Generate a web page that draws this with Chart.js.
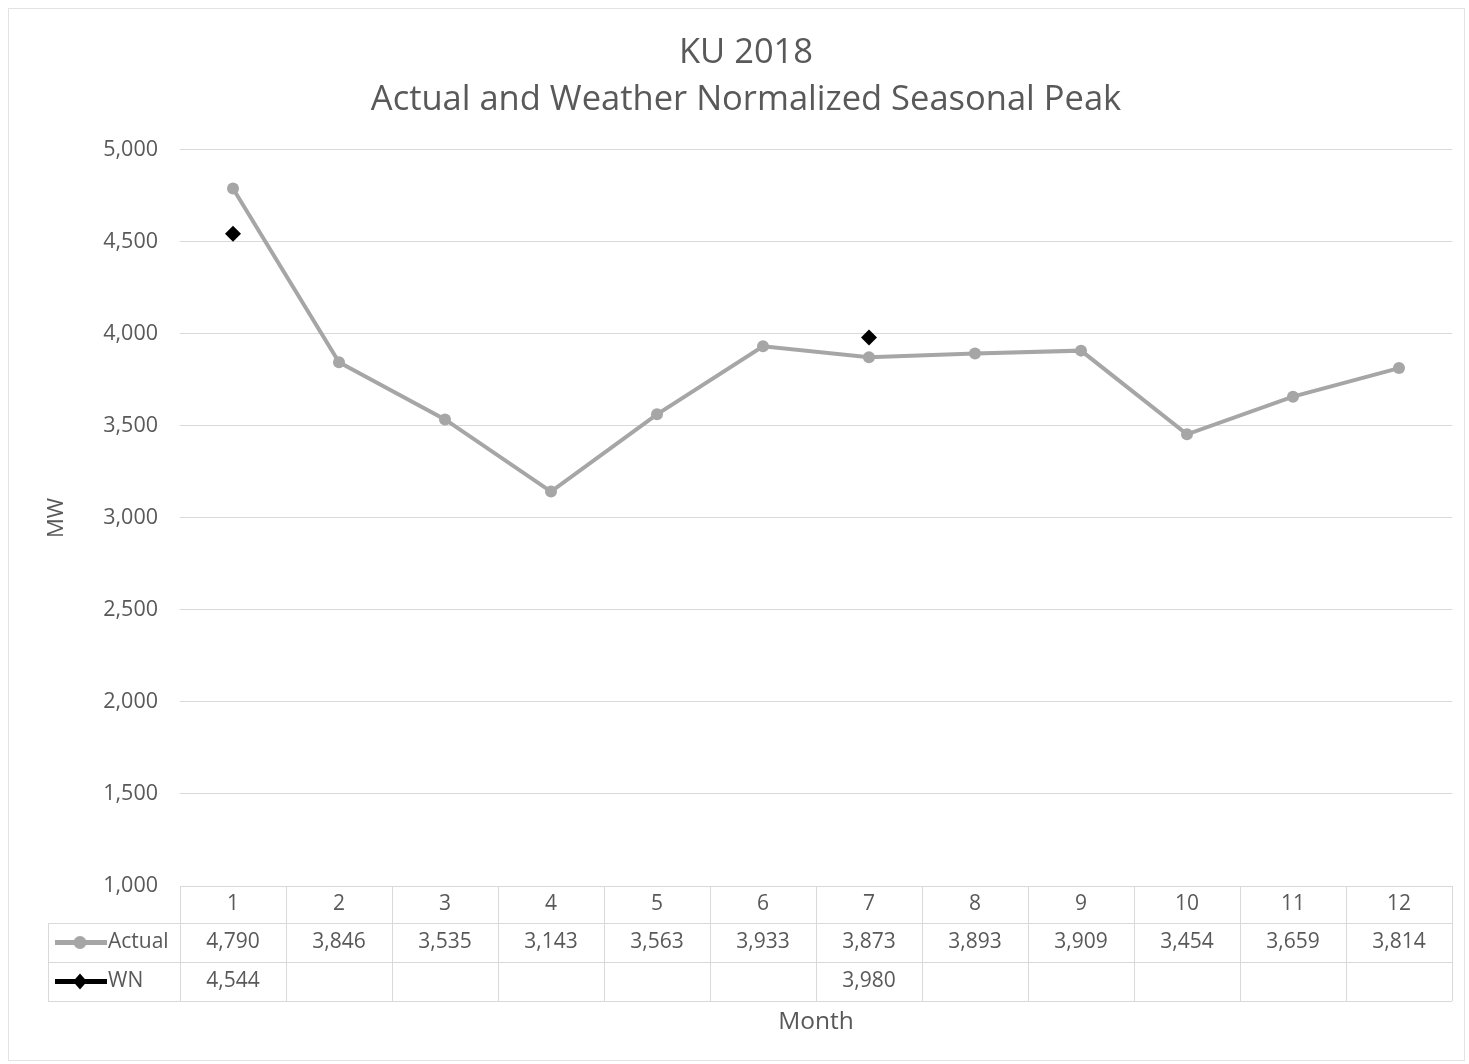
<!DOCTYPE html>
<html>
<head>
<meta charset="utf-8">
<title>KU 2018 Seasonal Peak</title>
<script src="https://cdn.jsdelivr.net/npm/chart.js@4.4.1/dist/chart.umd.min.js"></script>
<style>
  html, body { margin: 0; padding: 0; background: #fff; }
  #wrap { width: 1469px; height: 1064px; }
</style>
</head>
<body>
<div id="wrap"><canvas id="peakChart" width="1469" height="1064"></canvas></div>
<script>
// chart data
const months = ["1", "2", "3", "4", "5", "6", "7", "8", "9", "10", "11", "12"];
const actual = [4790, 3846, 3535, 3143, 3563, 3933, 3873, 3893, 3909, 3454, 3659, 3814];
const wn = [4544, null, null, null, null, null, 3980, null, null, null, null, null];
const yTicks = [1000, 1500, 2000, 2500, 3000, 3500, 4000, 4500, 5000];

const textColor = "#595959";
const gridColor = "#d9d9d9";
const fontFamily = "'Open Sans', 'Noto Sans', sans-serif";

function fmt(v) {
  return v.toLocaleString("en-US");
}

// draws the data table under the plot, using the x scale for column positions
const dataTable = {
  id: "dataTable",
  beforeDraw(chart) {
    const ctx = chart.ctx;
    ctx.save();
    ctx.strokeStyle = "#e3e3e3";
    ctx.lineWidth = 1;
    ctx.strokeRect(8.5, 8.5, chart.width - 13, chart.height - 12);
    ctx.restore();
  },
  afterDraw(chart) {
    const ctx = chart.ctx;
    const x = chart.scales.x;
    const area = chart.chartArea;
    const colW = (area.right - area.left) / months.length;
    const top = area.bottom;
    const rowH = [37, 39, 39];
    const r1 = top + rowH[0];
    const r2 = r1 + rowH[1];
    const r3 = r2 + rowH[2];
    const legendLeft = 48;

    ctx.save();
    ctx.strokeStyle = gridColor;
    ctx.lineWidth = 1;
    ctx.beginPath();
    // horizontal lines
    ctx.moveTo(area.left, top + 0.5); ctx.lineTo(area.right, top + 0.5);
    ctx.moveTo(legendLeft, r1 + 0.5); ctx.lineTo(area.right, r1 + 0.5);
    ctx.moveTo(legendLeft, r2 + 0.5); ctx.lineTo(area.right, r2 + 0.5);
    ctx.moveTo(legendLeft, r3 + 0.5); ctx.lineTo(area.right, r3 + 0.5);
    // vertical lines
    ctx.moveTo(legendLeft + 0.5, r1); ctx.lineTo(legendLeft + 0.5, r3);
    for (let i = 0; i <= months.length; i++) {
      const px = Math.round(area.left + i * colW) + 0.5;
      ctx.moveTo(px, top); ctx.lineTo(px, r3);
    }
    ctx.stroke();

    ctx.fillStyle = textColor;
    ctx.font = "21px " + fontFamily;
    ctx.textAlign = "center";
    ctx.textBaseline = "middle";
    months.forEach(function (m, i) {
      const cx = x.getPixelForValue(i);
      ctx.fillText(m, cx, (top + r1) / 2);
      ctx.fillText(fmt(actual[i]), cx, (r1 + r2) / 2);
      if (wn[i] !== null) ctx.fillText(fmt(wn[i]), cx, (r2 + r3) / 2);
    });

    // legend keys
    const keys = [
      { label: "Actual", color: "#a6a6a6", y: (r1 + r2) / 2, shape: "circle" },
      { label: "WN", color: "#000000", y: (r2 + r3) / 2, shape: "diamond" }
    ];
    keys.forEach(function (k) {
      ctx.strokeStyle = k.color;
      ctx.fillStyle = k.color;
      ctx.lineWidth = 5;
      ctx.beginPath();
      ctx.moveTo(55, k.y); ctx.lineTo(107, k.y);
      ctx.stroke();
      ctx.beginPath();
      if (k.shape === "circle") {
        ctx.arc(80, k.y, 6.5, 0, Math.PI * 2);
      } else {
        ctx.moveTo(80, k.y - 8); ctx.lineTo(87, k.y);
        ctx.lineTo(80, k.y + 8); ctx.lineTo(73, k.y);
        ctx.closePath();
      }
      ctx.fill();
      ctx.fillStyle = textColor;
      ctx.textAlign = "left";
      ctx.fillText(k.label, 108, k.y);
    });

    // x axis title
    ctx.font = "24.5px " + fontFamily;
    ctx.textAlign = "center";
    ctx.fillText("Month", (area.left + area.right) / 2, 1022);
    ctx.restore();
  }
};

const ctx = document.getElementById("peakChart").getContext("2d");
const peakChart = new Chart(ctx, {
  type: "line",
  data: {
    labels: months,
    datasets: [
      {
        label: "Actual",
        data: actual,
        borderColor: "#a6a6a6",
        backgroundColor: "#a6a6a6",
        borderWidth: 4,
        pointRadius: 6,
        pointBorderWidth: 0,
        pointStyle: "circle",
        tension: 0
      },
      {
        label: "WN",
        data: wn,
        borderColor: "#000000",
        backgroundColor: "#000000",
        showLine: false,
        pointStyle: "rectRot",
        pointRadius: 8,
        pointBorderWidth: 0
      }
    ]
  },
  options: {
    responsive: false,
    animation: false,
    layout: {
      padding: { top: 26, left: 40, right: 17, bottom: 170 }
    },
    plugins: {
      legend: { display: false },
      tooltip: { enabled: false },
      title: {
        display: true,
        text: ["KU 2018", "Actual and Weather Normalized Seasonal Peak"],
        color: textColor,
        font: { family: fontFamily, size: 34.5, weight: "normal", lineHeight: 1.36 },
        padding: { top: 4, bottom: 26 }
      }
    },
    scales: {
      x: {
        offset: true,
        ticks: { display: false },
        grid: { display: false },
        border: { display: false }
      },
      y: {
        min: 1000,
        max: 5000,
        afterFit: function (scale) {
          scale.width = 140;
        },
        afterBuildTicks: function (scale) {
          scale.ticks = yTicks.map(function (v) { return { value: v }; });
        },
        ticks: {
          color: textColor,
          padding: 22,
          font: { family: fontFamily, size: 21.5 },
          callback: function (value) {
            return fmt(value);
          }
        },
        grid: { color: gridColor, drawTicks: false },
        border: { display: false },
        title: {
          display: true,
          text: "MW",
          color: textColor,
          font: { family: fontFamily, size: 22 }
        }
      }
    }
  },
  plugins: [dataTable]
});
</script>
</body>
</html>
